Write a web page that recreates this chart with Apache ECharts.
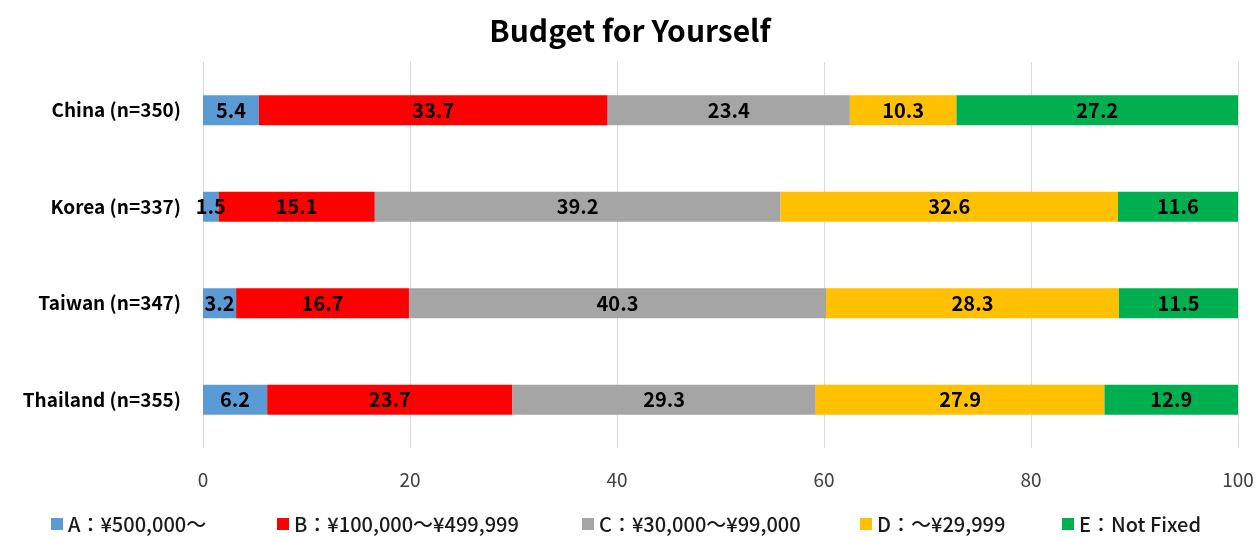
<!DOCTYPE html>
<html>
<head>
<meta charset="utf-8">
<script src="https://cdn.jsdelivr.net/npm/echarts@6/dist/echarts.min.js"></script>
<style>
html,body{margin:0;padding:0;background:#fff;}
#chart{width:1260px;height:537px;}
</style>
</head>
<body>
<div id="chart"></div>
<script>
var categories = ['China (n=350)', 'Korea (n=337)', 'Taiwan (n=347)', 'Thailand (n=355)'];
var seriesNames = ['A：¥500,000～', 'B：¥100,000～¥499,999', 'C：¥30,000～¥99,000', 'D：～¥29,999', 'E：Not Fixed'];
var valuesA = [5.4, 1.5, 3.2, 6.2];
var valuesB = [33.7, 15.1, 16.7, 23.7];
var valuesC = [23.4, 39.2, 40.3, 29.3];
var valuesD = [10.3, 32.6, 28.3, 27.9];
var valuesE = [27.2, 11.6, 11.5, 12.9];
var colors = ['#5B9BD5', '#FF0000', '#A5A5A5', '#FFC000', '#00B050'];

var font = '"Noto Sans CJK JP", "Noto Sans", sans-serif';
var allValues = [valuesA, valuesB, valuesC, valuesD, valuesE];
// legend icon x positions, one legend per item
var legendLeft = [46, 272, 577, 855, 1057];

var series = [];
var legends = [];
for (var i = 0; i < seriesNames.length; i++) {
    series.push({
        name: seriesNames[i],
        type: 'bar',
        stack: 'total',
        barWidth: 30,
        itemStyle: { color: colors[i] },
        label: {
            show: true,
            position: 'inside',
            color: '#000',
            fontFamily: font,
            fontWeight: 'bold',
            fontSize: 20
        },
        data: allValues[i]
    });
    legends.push({
        data: [seriesNames[i]],
        left: legendLeft[i],
        top: 509,
        itemWidth: 12,
        itemHeight: 12,
        itemGap: 6,
        icon: 'rect',
        textStyle: { fontFamily: font, fontSize: 20, color: '#1a1a1a', fontWeight: 500 }
    });
}

var chart = echarts.init(document.getElementById('chart'));
chart.setOption({
    animation: false,
    title: {
        text: 'Budget for Yourself',
        left: 'center',
        top: 11,
        textStyle: { fontFamily: font, fontWeight: 'bold', fontSize: 30, color: '#000' }
    },
    legend: legends,
    grid: { left: 203, right: 22, top: 62, bottom: 89 },
    xAxis: {
        type: 'value',
        min: 0,
        max: 100,
        interval: 20,
        axisLine: { show: false },
        axisTick: { show: false },
        splitLine: { lineStyle: { color: '#d9d9d9' } },
        axisLabel: { fontFamily: font, fontSize: 19, color: '#404040', margin: 22 }
    },
    yAxis: {
        type: 'category',
        inverse: true,
        data: categories,
        axisLine: { show: false },
        axisTick: { show: false },
        axisLabel: { fontFamily: font, fontWeight: 'bold', fontSize: 19, color: '#000', margin: 22 }
    },
    series: series
});
</script>
</body>
</html>
